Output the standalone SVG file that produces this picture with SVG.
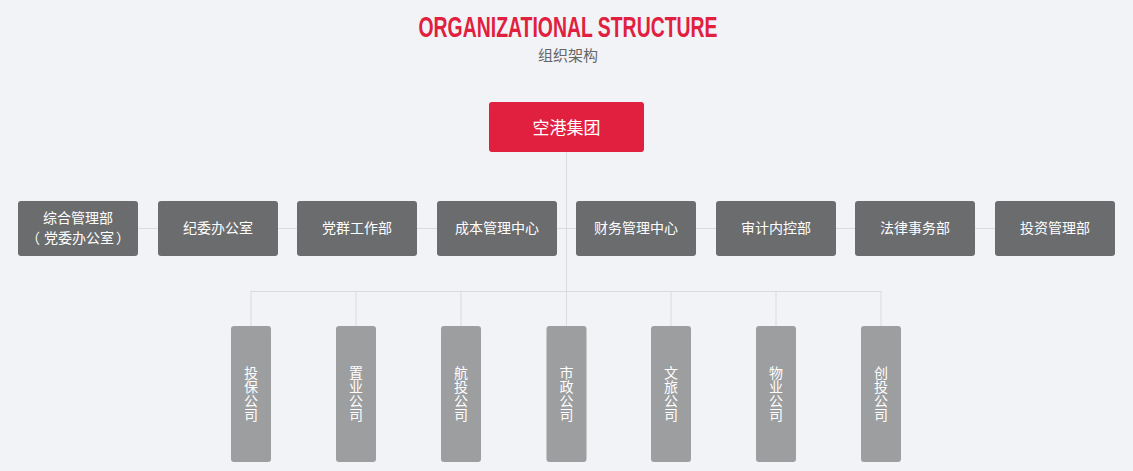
<svg xmlns="http://www.w3.org/2000/svg" width="1133" height="471" viewBox="0 0 1133 471">
<style>
.cjk{font-family:"Noto Sans CJK SC","Noto Sans",sans-serif;}
.dept{fill:#6b6c6e;}
.sub{fill:#9d9ea0;}
.t{fill:#ffffff;font-size:14px;text-anchor:middle;}
.v{fill:#ffffff;font-size:14px;text-anchor:middle;writing-mode:vertical-rl;}
.ln{stroke:#dadadf;stroke-width:1;fill:none;}
</style>
<rect width="1133" height="471" fill="#f2f3f7"/>
<text x="568" y="37" font-family="Liberation Sans, sans-serif" font-weight="bold" font-size="29" fill="#e0203e" text-anchor="middle" textLength="299" lengthAdjust="spacingAndGlyphs">ORGANIZATIONAL STRUCTURE</text>
<text x="568" y="61" class="cjk" font-size="15" fill="#666666" text-anchor="middle">组织架构</text>
<g id="connectors">
<path class="ln" d="M566.5 152V291M78 228.5H1055M251 291.5H881M251 291V326M356 291V326M461 291V326M566.5 291V326M671 291V326M776 291V326M881 291V326"/>
</g>
<g id="root"><rect x="489" y="102" width="155" height="50" rx="3" fill="#e0203e"/><text x="566.5" y="134" class="cjk t" style="font-size:17px">空港集团</text></g>
<g id="d1"><rect class="dept" x="18" y="201" width="120" height="55" rx="3"/><text class="cjk t" x="78" y="223">综合管理部</text><text class="cjk" fill="#ffffff" font-size="14" y="243"><tspan x="26">（</tspan><tspan x="44">党委办公室</tspan><tspan x="116">）</tspan></text></g>
<g id="d2"><rect class="dept" x="158" y="201" width="120" height="55" rx="3"/><text class="cjk t" x="218" y="233">纪委办公室</text></g>
<g id="d3"><rect class="dept" x="297" y="201" width="120" height="55" rx="3"/><text class="cjk t" x="357" y="233">党群工作部</text></g>
<g id="d4"><rect class="dept" x="437" y="201" width="120" height="55" rx="3"/><text class="cjk t" x="497" y="233">成本管理中心</text></g>
<g id="d5"><rect class="dept" x="576" y="201" width="120" height="55" rx="3"/><text class="cjk t" x="636" y="233">财务管理中心</text></g>
<g id="d6"><rect class="dept" x="716" y="201" width="120" height="55" rx="3"/><text class="cjk t" x="776" y="233">审计内控部</text></g>
<g id="d7"><rect class="dept" x="855" y="201" width="120" height="55" rx="3"/><text class="cjk t" x="915" y="233">法律事务部</text></g>
<g id="d8"><rect class="dept" x="995" y="201" width="120" height="55" rx="3"/><text class="cjk t" x="1055" y="233">投资管理部</text></g>
<g id="s1"><rect class="sub" x="231" y="326" width="40" height="136" rx="3"/><text class="cjk v" x="251" y="394">投保公司</text></g>
<g id="s2"><rect class="sub" x="336" y="326" width="40" height="136" rx="3"/><text class="cjk v" x="356" y="394">置业公司</text></g>
<g id="s3"><rect class="sub" x="441" y="326" width="40" height="136" rx="3"/><text class="cjk v" x="461" y="394">航投公司</text></g>
<g id="s4"><rect class="sub" x="546.5" y="326" width="40" height="136" rx="3"/><text class="cjk v" x="566.5" y="394">市政公司</text></g>
<g id="s5"><rect class="sub" x="651" y="326" width="40" height="136" rx="3"/><text class="cjk v" x="671" y="394">文旅公司</text></g>
<g id="s6"><rect class="sub" x="756" y="326" width="40" height="136" rx="3"/><text class="cjk v" x="776" y="394">物业公司</text></g>
<g id="s7"><rect class="sub" x="861" y="326" width="40" height="136" rx="3"/><text class="cjk v" x="881" y="394">创投公司</text></g>
</svg>
